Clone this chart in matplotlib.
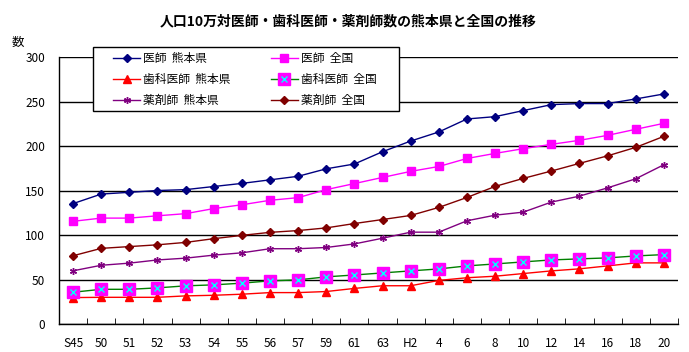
import matplotlib
matplotlib.use("Agg")
import matplotlib.pyplot as plt
from matplotlib.patches import Rectangle
from matplotlib.legend_handler import HandlerTuple

plt.rcParams['font.family'] = ['Noto Sans CJK JP', 'DejaVu Sans']

# 年次 (昭和・平成)
years = ['S45', '50', '51', '52', '53', '54', '55', '56', '57', '59', '61',
         '63', 'H2', '4', '6', '8', '10', '12', '14', '16', '18', '20']

# 人口10万対の数
doc_kuma = [135.3, 146, 148, 150, 151, 154.5, 158, 162, 166, 174.4, 179.8,
            193.6, 205.6, 215.8, 230.4, 233, 239.8, 246.5, 247.7, 247.7, 252.9, 258.5]
doc_nat = [115.4, 119, 119, 121.6, 124, 129.7, 134, 139, 142, 151, 157.8,
           164.7, 171.5, 177, 186, 191.7, 197, 201.9, 206.4, 212, 218.8, 225.5]
dent_kuma = [29.7, 30, 30, 30, 31.6, 32.3, 33.5, 35.3, 35.3, 36.5, 40,
             43, 43, 49, 52, 53.7, 56.7, 59.7, 62, 65.3, 68.7, 68.7]
dent_nat = [35.7, 39, 39, 40.6, 42.9, 44, 45.9, 48.5, 49.6, 53, 55.1,
            57.4, 59.7, 61.9, 65.3, 67.5, 69.8, 72, 73.2, 74.3, 76.5, 78]
phar_kuma = [59.8, 66, 68.4, 72, 74, 77.4, 80, 84.6, 84.6, 86, 90,
             96.4, 103.2, 103.2, 116, 122.3, 125.7, 137, 143.7, 153, 163.2, 179]
phar_nat = [76.7, 85, 87, 89, 91.7, 95.9, 99.6, 103, 105, 108, 112.9,
            117.4, 122, 131, 142.2, 154.6, 163.6, 171.9, 180.5, 189, 198.5, 210.9]

x = list(range(len(years)))

fig = plt.figure(figsize=(6.89, 3.52), dpi=100)
ax = fig.add_axes([0.0856, 0.0795, 0.8984, 0.7585])

h1, = ax.plot(x, doc_kuma, color='#000080', marker='D', markersize=4.5, lw=1)
h2, = ax.plot(x, doc_nat, color='#FF00FF', marker='s', markersize=6, lw=1)
h3, = ax.plot(x, dent_kuma, color='#FF0000', marker='^', markersize=6, lw=1)
h4a, = ax.plot(x, dent_nat, color='#008000', marker='s', markersize=8,
               markerfacecolor='#FF00FF', markeredgecolor='#FF00FF', lw=1)
h4b, = ax.plot(x, dent_nat, color='none', marker='x', markersize=4,
               markeredgecolor='#00FFFF', markeredgewidth=1, lw=0)
h5, = ax.plot(x, phar_kuma, color='#800080', marker=(6, 2, 0), markersize=5,
              markeredgewidth=1, lw=1)
h6, = ax.plot(x, phar_nat, color='#800000', marker='D', markersize=4.5, lw=1)

ax.set_xlim(-0.5, len(years) - 0.5)
ax.set_ylim(0, 300)
ax.set_yticks(range(0, 301, 50))
ax.yaxis.grid(True, color='black', lw=1)
ax.set_axisbelow(True)
ax.set_xticks(x)
ax.set_xticklabels(years)
ax.set_xticks([i + 0.5 for i in range(len(years))], minor=True)
ax.tick_params(axis='x', which='major', length=0, pad=9, labelsize=8.5)
ax.tick_params(axis='x', which='minor', length=4, direction='in', color='black')
ax.tick_params(axis='y', length=0, pad=10, labelsize=8.5)
for s in ['top', 'right']:
    ax.spines[s].set_visible(False)
for s in ['left', 'bottom']:
    ax.spines[s].set_color('black')
    ax.spines[s].set_linewidth(1)

fig.text(0.505, 0.94, '人口10万対医師・歯科医師・薬剤師数の熊本県と全国の推移',
         ha='center', va='center', fontsize=10, fontweight='bold')
fig.text(0.026, 0.88, '数', ha='center', va='center', fontsize=9)

# legend box drawn separately so the inner padding matches
box = Rectangle((0.135, 0.6847), 0.444, 0.1818, transform=fig.transFigure,
                facecolor='white', edgecolor='black', lw=1, zorder=5)
fig.patches.append(box)

handles = [h1, h3, h5, h2, (h4a, h4b), h6]
labels = ['医師  熊本県', '歯科医師  熊本県', '薬剤師  熊本県',
          '医師  全国', '歯科医師  全国', '薬剤師  全国']
leg = fig.legend(handles, labels, ncol=2, loc='upper left',
                 bbox_to_anchor=(0.164, 0.852), borderaxespad=0, borderpad=0,
                 fontsize=8.5, frameon=False, handlelength=2.3,
                 columnspacing=3.4, labelspacing=0.66, handletextpad=0.25,
                 handler_map={tuple: HandlerTuple(ndivide=1, pad=0)})
leg.set_zorder(10)

fig.savefig('out.png', dpi=100)
